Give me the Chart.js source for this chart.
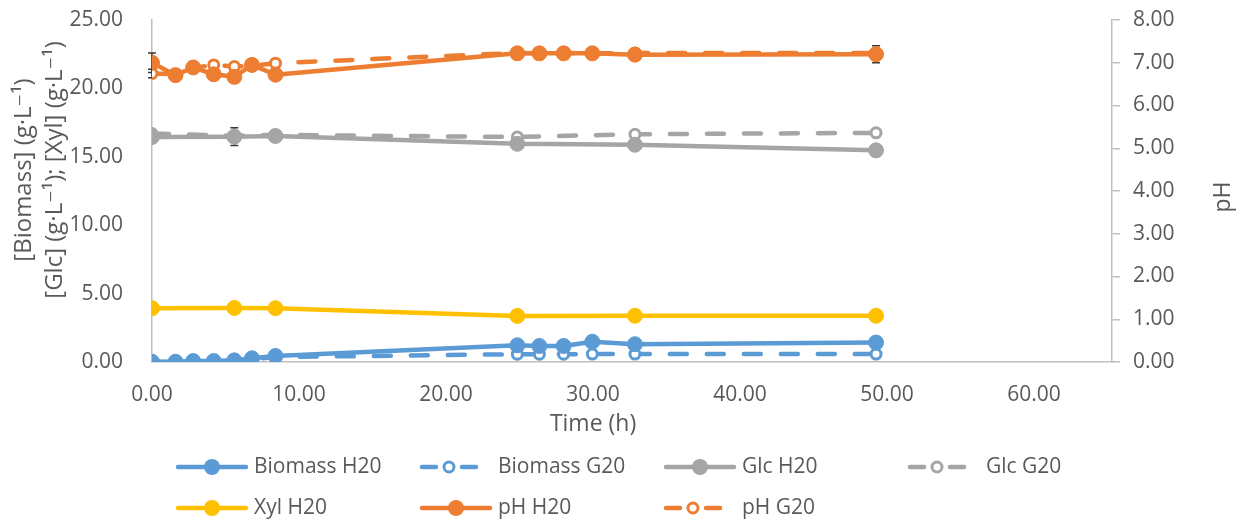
<!DOCTYPE html>
<html>
<head>
<meta charset="utf-8">
<script src="https://cdn.jsdelivr.net/npm/chart.js@4.4.1/dist/chart.umd.min.js"></script>
<style>
  html, body { margin: 0; padding: 0; background: #ffffff; }
  #wrap { width: 1246px; height: 523px; }
</style>
</head>
<body>
<div id="wrap"><canvas id="c" width="1246" height="523"></canvas></div>
<script>
// Sampling times (h)
const timeFull = [0, 1.6, 2.8, 4.2, 5.6, 6.8, 8.4, 24.85, 26.35, 28.0, 29.95, 32.85, 49.25];
const timeShort = [0, 5.6, 8.4, 24.85, 32.85, 49.25];

// Biomass (g/L)
const biomassH20 = [0.02, 0.02, 0.07, 0.07, 0.12, 0.27, 0.44, 1.22, 1.17, 1.17, 1.48, 1.30, 1.42];
const biomassG20 = [0.00, 0.01, 0.04, 0.05, 0.09, 0.20, 0.36, 0.57, 0.57, 0.57, 0.58, 0.58, 0.58];
const biomassG20Err = [null, null, null, null, null, null, null, 0.08, 0.08, 0.08, 0.1, 0.1, 0.1];

// Glucose (g/L)
const glcH20 = [16.45, 16.47, 16.52, 15.95, 15.88, 15.47];
const glcH20Err = [null, 0.65, null, null, null, null];
const glcG20 = [16.70, 16.55, 16.60, 16.45, 16.65, 16.75];
const glcG20Err = [null, null, null, 0.15, 0.2, 0.2];

// Xylose (g/L)
const xylH20 = [3.93, 3.95, 3.93, 3.37, 3.38, 3.38];

// pH
const phH20 = [7.00, 6.71, 6.89, 6.73, 6.67, 6.95, 6.72, 7.22, 7.22, 7.22, 7.22, 7.19, 7.20];
const phH20Err = [0.23, null, null, null, null, null, null, null, null, null, null, null, 0.2];
const phG20 = [6.75, 6.73, 6.88, 6.95, 6.91, 6.93, 6.99, 7.23, 7.22, 7.23, 7.22, 7.23, 7.23];
const phG20Err = [0.1, null, null, 0.05, null, null, null, null, null, null, null, null, null];

// Axis ticks
const xTicks = { min: 0, max: 65.3, step: 10 };
const yLeftTicks = { min: 0, max: 25, step: 5 };
const yRightTicks = { min: 0, max: 8, step: 1 };

const FONT = "'Open Sans', 'DejaVu Sans', sans-serif";
const TEXT = '#595959';
const AXIS = '#BFBFBF';
const BLUE = '#5B9BD5', GRAY = '#A5A5A5', YELLOW = '#FFC000', ORANGE = '#ED7D31';

const pts = (xs, ys) => xs.map((x, i) => ({ x: x, y: ys[i] }));

function series(label, xs, ys, color, open, axis, errors) {
  return {
    label: label,
    data: pts(xs, ys),
    yAxisID: axis,
    borderColor: color,
    backgroundColor: color,
    borderWidth: 4.5,
    borderCapStyle: 'round',
    borderJoinStyle: 'round',
    borderDash: open ? [17, 20] : [],
    pointRadius: open ? 5 : 7.5,
    pointBorderWidth: open ? 3 : 1,
    pointBackgroundColor: open ? '#ffffff' : color,
    pointBorderColor: color,
    tension: 0,
    fill: false,
    openMarker: open,
    errors: errors || null
  };
}

const datasets = [
  series('Biomass H20', timeFull, biomassH20, BLUE, false, 'y'),
  series('Biomass G20', timeFull, biomassG20, BLUE, true, 'y', biomassG20Err),
  series('Glc H20', timeShort, glcH20, GRAY, false, 'y', glcH20Err),
  series('Glc G20', timeShort, glcG20, GRAY, true, 'y', glcG20Err),
  series('Xyl H20', timeShort, xylH20, YELLOW, false, 'y'),
  series('pH H20', timeFull, phH20, ORANGE, false, 'y1', phH20Err),
  series('pH G20', timeFull, phG20, ORANGE, true, 'y1', phG20Err)
];

// Error bars, drawn beneath the markers
const errorBars = {
  id: 'errorBars',
  beforeDatasetsDraw(chart) {
    const ctx = chart.ctx;
    ctx.save();
    ctx.strokeStyle = '#3a3a3a';
    ctx.lineWidth = 1.5;
    chart.data.datasets.forEach((ds, di) => {
      if (!ds.errors) return;
      const meta = chart.getDatasetMeta(di);
      const scale = chart.scales[ds.yAxisID];
      ds.errors.forEach((e, i) => {
        if (e == null) return;
        const v = ds.data[i].y;
        const px = meta.data[i].x;
        const top = scale.getPixelForValue(v + e);
        const bot = scale.getPixelForValue(v - e);
        ctx.beginPath();
        ctx.moveTo(px, top); ctx.lineTo(px, bot);
        ctx.moveTo(px - 4, top); ctx.lineTo(px + 4, top);
        ctx.moveTo(px - 4, bot); ctx.lineTo(px + 4, bot);
        ctx.stroke();
      });
    });
    ctx.restore();
  }
};

// Axis titles and the two-row legend
const decorations = {
  id: 'decorations',
  afterDraw(chart) {
    const ctx = chart.ctx;
    ctx.save();
    ctx.fillStyle = TEXT;
    ctx.textAlign = 'center';
    ctx.textBaseline = 'middle';

    ctx.font = '23px ' + FONT;
    const xs = chart.scales.x;
    ctx.fillText('Time (h)', xs.getPixelForValue(30), 424);

    ctx.font = '24px ' + FONT;
    const leftTitle = ['[Biomass] (g\u00B7L\u207B\u00B9)', '[Glc] (g\u00B7L\u207B\u00B9); [Xyl] (g\u00B7L\u207B\u00B9)'];
    [24, 55].forEach((x, i) => {
      ctx.save();
      ctx.translate(x, 170);
      ctx.rotate(-Math.PI / 2);
      ctx.fillText(leftTitle[i], 0, 0);
      ctx.restore();
    });
    ctx.font = '23px ' + FONT;
    ctx.save();
    ctx.translate(1223, 197);
    ctx.rotate(-Math.PI / 2);
    ctx.fillText('pH', 0, 0);
    ctx.restore();

    // legend
    ctx.font = '21px ' + FONT;
    ctx.textAlign = 'left';
    const slots = [[0, 0], [1, 0], [2, 0], [3, 0], [0, 1], [1, 1], [2, 1]];
    chart.data.datasets.forEach((ds, i) => {
      const x = 176 + 244 * slots[i][0];
      const y = 467 + 41 * slots[i][1];
      ctx.strokeStyle = ds.borderColor;
      ctx.lineWidth = 4.5;
      ctx.lineCap = 'round';
      if (ds.openMarker) {
        ctx.beginPath();
        ctx.moveTo(x + 2, y); ctx.lineTo(x + 16, y);
        ctx.moveTo(x + 42, y); ctx.lineTo(x + 56, y);
        ctx.stroke();
        ctx.beginPath();
        ctx.arc(x + 29, y, 5, 0, Math.PI * 2);
        ctx.fillStyle = '#ffffff';
        ctx.fill();
        ctx.lineWidth = 3;
        ctx.stroke();
      } else {
        ctx.beginPath();
        ctx.moveTo(x + 2, y); ctx.lineTo(x + 70, y);
        ctx.stroke();
        ctx.beginPath();
        ctx.arc(x + 36, y, 8, 0, Math.PI * 2);
        ctx.fillStyle = ds.borderColor;
        ctx.fill();
      }
      ctx.fillStyle = TEXT;
      ctx.fillText(ds.label, x + 78, y);
    });
    ctx.restore();
  }
};

const tickFont = { family: FONT, size: 21 };

// vertical axes: fixed width, no extra label padding above/below the plot
const fixVertical = width => s => { s.width = width; s.paddingTop = 0; s.paddingBottom = 0; };

new Chart(document.getElementById('c'), {
  type: 'line',
  data: { datasets: datasets },
  plugins: [errorBars, decorations],
  options: {
    responsive: false,
    animation: false,
    devicePixelRatio: 1,
    layout: { padding: { top: 20, left: 0, right: 0, bottom: 0 } },
    plugins: { legend: { display: false }, tooltip: { enabled: false } },
    scales: {
      x: {
        type: 'linear',
        min: xTicks.min, max: xTicks.max,
        ticks: { stepSize: xTicks.step, includeBounds: false, maxRotation: 0,
                 callback: v => v.toFixed(2), font: tickFont, color: TEXT, padding: 12 },
        grid: { display: false },
        border: { display: true, color: AXIS, width: 1.5 },
        afterFit(s) { s.height = 161; s.paddingLeft = 0; s.paddingRight = 0; }
      },
      y: {
        position: 'left',
        min: yLeftTicks.min, max: yLeftTicks.max,
        ticks: { stepSize: yLeftTicks.step, callback: v => v.toFixed(2), font: tickFont, color: TEXT, padding: 21 },
        grid: { display: false },
        border: { display: true, color: AXIS, width: 1.5 },
        afterFit: fixVertical(152)
      },
      y1: {
        position: 'right',
        min: yRightTicks.min, max: yRightTicks.max,
        ticks: { stepSize: yRightTicks.step, callback: v => v.toFixed(2), font: tickFont, color: TEXT, padding: 13 },
        grid: { display: true, drawOnChartArea: false, drawTicks: true, tickLength: 8, color: AXIS, lineWidth: 1.5 },
        border: { display: true, color: AXIS, width: 1.5 },
        afterFit: fixVertical(134)
      }
    }
  }
});
</script>
</body>
</html>
